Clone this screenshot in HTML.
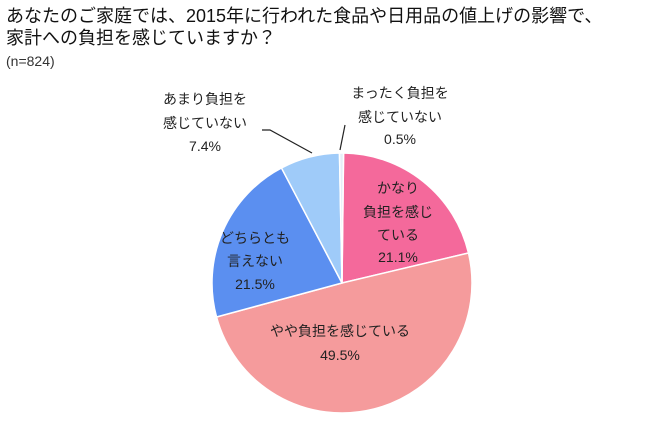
<!DOCTYPE html>
<html><head><meta charset="utf-8"><style>
body{margin:0;width:650px;height:430px;background:#fff;overflow:hidden;font-family:"Liberation Sans","Noto Sans CJK JP",sans-serif;}
svg{position:absolute;left:0;top:0}
text{font-family:"Liberation Sans","Noto Sans CJK JP",sans-serif;}
</style></head><body>
<svg width="650" height="430">
<text x="6" y="22" font-size="18" fill="#111">あなたのご家庭では、2015年に行われた食品や日用品の値上げの影響で、</text>
<text x="6" y="44" font-size="18" fill="#111">家計への負担を感じていますか？</text>
<text x="6" y="66" font-size="14" fill="#333">(n=824)</text>
<g id="slices"></g>
<g id="labels" font-size="14" fill="#222" text-anchor="middle"></g>
<line x1="340" y1="150" x2="345" y2="125" stroke="#222" stroke-width="1.2"/>
<polyline points="312,153 270,130 262,130" fill="none" stroke="#222" stroke-width="1.2"/>
</svg>
<script>
const categories=["かなり負担を感じている","やや負担を感じている","どちらとも言えない","あまり負担を感じていない","まったく負担を感じていない"];
const values=[21.1,49.5,21.5,7.4,0.5];
const colors=["#f4699b","#f59b9c","#5b8ff0","#9fcbf9","#e6eef8"];
const cx=342,cy=283,r=130;
const g=document.getElementById('slices');
const total=values.reduce((a,b)=>a+b,0);
let a0=-Math.PI/2+0.012;
const NS="http://www.w3.org/2000/svg";
values.forEach((v,i)=>{
  const a1=a0+v/total*2*Math.PI;
  const x0=cx+r*Math.cos(a0),y0=cy+r*Math.sin(a0),x1=cx+r*Math.cos(a1),y1=cy+r*Math.sin(a1);
  const p=document.createElementNS(NS,'path');
  p.setAttribute('d',`M${cx},${cy}L${x0},${y0}A${r},${r} 0 ${a1-a0>Math.PI?1:0} 1 ${x1},${y1}Z`);
  p.setAttribute('fill',colors[i]);p.setAttribute('stroke','#fff');p.setAttribute('stroke-width','1.5');
  
  
  g.appendChild(p);a0=a1;
});
const lab=document.getElementById('labels');
const labelLines=[
 [[398,193,"かなり"],[398,217,"負担を感じ"],[398,240,"ている"],[398,262,values[0].toFixed(1)+"%"]],
 [[340,336,"やや負担を感じている"],[340,360,values[1].toFixed(1)+"%"]],
 [[255,243,"どちらとも"],[255,266,"言えない"],[255,289,values[2].toFixed(1)+"%"]],
 [[205,104,"あまり負担を"],[205,128,"感じていない"],[205,151,values[3].toFixed(1)+"%"]],
 [[400,98,"まったく負担を"],[400,122,"感じていない"],[400,144,values[4].toFixed(1)+"%"]]
];
labelLines.forEach((ls,i)=>ls.forEach(l=>{
  const t=document.createElementNS(NS,'text');
  t.setAttribute('x',l[0]);t.setAttribute('y',l[1]);t.textContent=l[2];
  
  
  lab.appendChild(t);
}));
</script>
</body></html>
